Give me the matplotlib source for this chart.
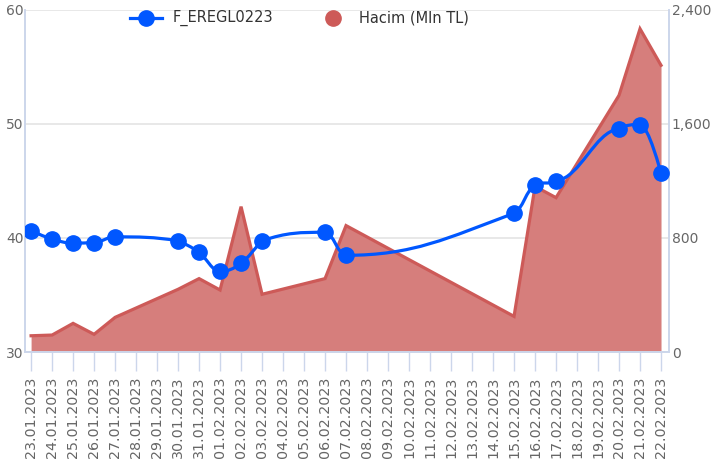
import matplotlib
matplotlib.use("Agg")
import matplotlib.pyplot as plt
from matplotlib.path import Path
from matplotlib.patches import PathPatch
from matplotlib.lines import Line2D
import pandas as pd

# all calendar days on the x axis
all_days = pd.date_range("2023-01-23", "2023-02-22", freq="D")
day_labels = [d.strftime("%d.%m.%Y") for d in all_days]

# trading days with data
trade_days = ["23.01.2023", "24.01.2023", "25.01.2023", "26.01.2023", "27.01.2023",
              "30.01.2023", "31.01.2023", "01.02.2023", "02.02.2023", "03.02.2023",
              "06.02.2023", "07.02.2023", "15.02.2023", "16.02.2023", "17.02.2023",
              "20.02.2023", "21.02.2023", "22.02.2023"]
price = [40.65, 39.9, 39.56, 39.6, 40.1, 39.76, 38.73, 37.08, 37.79, 39.76,
         40.5, 38.48, 42.17, 44.65, 45.0, 49.6, 49.95, 45.67]
volume = [114, 119, 201, 124, 243, 440, 515, 435, 1020, 405,
          515, 887, 250, 1162, 1083, 1801, 2268, 2012]

price_ticks = [30, 40, 50, 60]
volume_ticks = [0, 800, 1600, 2400]

BLUE = "#0057ff"
RED_LINE = "#cd5a58"
RED_FILL = "#d67e7c"
AXIS_COL = "#ccd6eb"
GRID_COL = "#e6e6e6"
LABEL_COL = "#666666"


def spline_path(xs, ys, smoothing=1.5):
    # same smoothing as the highcharts spline series
    denom = smoothing + 1
    n = len(xs)
    lc = [None] * n
    rc = [None] * n
    for i in range(1, n - 1):
        px, py = xs[i], ys[i]
        lx, ly = xs[i - 1], ys[i - 1]
        nx, ny = xs[i + 1], ys[i + 1]
        lcx = (smoothing * px + lx) / denom
        lcy = (smoothing * py + ly) / denom
        rcx = (smoothing * px + nx) / denom
        rcy = (smoothing * py + ny) / denom
        if rcx != lcx:
            corr = ((rcy - lcy) * (rcx - px)) / (rcx - lcx) + py - rcy
            lcy += corr
            rcy += corr
        if lcy > ly and lcy > py:
            lcy = max(ly, py)
            rcy = 2 * py - lcy
        elif lcy < ly and lcy < py:
            lcy = min(ly, py)
            rcy = 2 * py - lcy
        if rcy > ny and rcy > py:
            rcy = max(ny, py)
            lcy = 2 * py - rcy
        elif rcy < ny and rcy < py:
            rcy = min(ny, py)
            lcy = 2 * py - rcy
        lc[i] = (lcx, lcy)
        rc[i] = (rcx, rcy)
    verts = [(xs[0], ys[0])]
    codes = [Path.MOVETO]
    for i in range(1, n):
        c1 = rc[i - 1] if rc[i - 1] else (xs[i - 1], ys[i - 1])
        c2 = lc[i] if lc[i] else (xs[i], ys[i])
        verts += [c1, c2, (xs[i], ys[i])]
        codes += [Path.CURVE4] * 3
    return Path(verts, codes)


xpos = [day_labels.index(d) for d in trade_days]

W, H = 715, 470
fig = plt.figure(figsize=(W / 100, H / 100), dpi=100)
left, right, top, bottom = 25, 669, 10, 352
ax = fig.add_axes([left / W, 1 - bottom / H, (right - left) / W, (bottom - top) / H])
ax2 = ax.twinx()

# volume area (right axis)
ax.fill_between(xpos, volume, 0, color=RED_FILL, lw=0, zorder=2)
ax.plot(xpos, volume, color=RED_LINE, lw=2.3, solid_joinstyle="miter", zorder=3)
ax.set_ylim(0, 2400)
ax.set_xlim(-0.29, 30.38)
ax.yaxis.tick_right()
ax.yaxis.set_label_position("right")
ax.set_yticks(volume_ticks)
ax.set_yticklabels([f"{v:,}" for v in volume_ticks])
ax.set_axisbelow(True)
ax.grid(axis="y", color=GRID_COL, lw=1.3)
ax.set_xticks(range(len(day_labels)))
ax.set_xticklabels(day_labels, rotation=90)
ax.tick_params(axis="x", length=14, width=1, color=AXIS_COL, pad=4,
               labelsize=10.3, labelcolor=LABEL_COL)
ax.tick_params(axis="y", length=0, pad=2, labelsize=10, labelcolor=LABEL_COL)
for lab in ax.get_xticklabels():
    lab.set_verticalalignment("top")

# price spline (left axis)
ax2.yaxis.tick_left()
ax2.set_ylim(30, 60)
ax2.set_yticks(price_ticks)
ax2.tick_params(axis="y", length=0, pad=1, labelsize=10, labelcolor=LABEL_COL)
ax2.add_patch(PathPatch(spline_path(xpos, price), fill=False, edgecolor=BLUE,
                        lw=2.3, zorder=4))
ax2.plot(xpos, price, ls="none", marker="o", ms=11, color=BLUE, zorder=5)

for a in (ax, ax2):
    a.spines["top"].set_visible(False)
    for s in ("left", "right", "bottom"):
        a.spines[s].set_color(AXIS_COL)
        a.spines[s].set_linewidth(1.2)

# legend drawn at fixed pixel spots
fy = 1 - 18 / H
fig.add_artist(Line2D([130 / W, 162 / W], [fy, fy], color=BLUE, lw=2.3,
                      transform=fig.transFigure))
fig.add_artist(Line2D([146 / W], [fy], marker="o", ms=11, color=BLUE,
                      transform=fig.transFigure))
fig.text(173 / W, fy, "F_EREGL0223", fontsize=10.5, color="#333333", va="center")
fig.add_artist(Line2D([333 / W], [fy], marker="o", ms=11, color=RED_LINE, ls="none",
                      transform=fig.transFigure))
fig.text(359 / W, fy, "Hacim (Mln TL)", fontsize=10.5, color="#333333", va="center")

fig.savefig("out.png", dpi=100)
